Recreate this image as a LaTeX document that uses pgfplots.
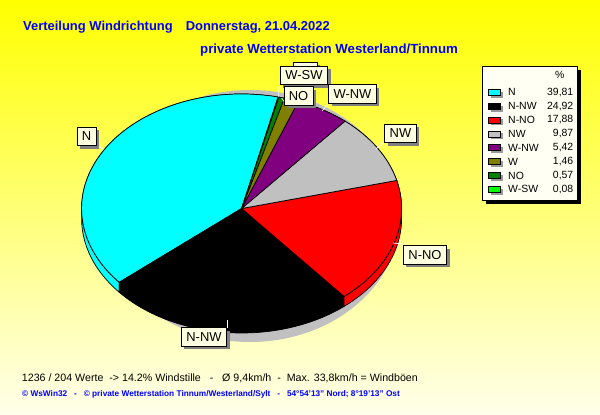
\documentclass[border=0pt]{standalone}
\usepackage{fontspec}
\setmainfont{Liberation Sans}
\usepackage{pgfplots}
\usepackage{pgfplotstable}
\pgfplotsset{compat=1.18}
\usetikzlibrary{shadows}

\definecolor{sl0}{RGB}{0,255,255}
\definecolor{sl1}{RGB}{0,0,0}
\definecolor{sl2}{RGB}{255,0,0}
\definecolor{sl3}{RGB}{192,192,192}
\definecolor{sl4}{RGB}{128,0,128}
\definecolor{sl5}{RGB}{128,128,0}
\definecolor{sl6}{RGB}{0,128,0}
\definecolor{sl7}{RGB}{0,255,0}
\definecolor{bgtop}{RGB}{255,255,0}
\definecolor{bgbot}{RGB}{255,255,235}
\definecolor{tipfill}{RGB}{255,255,225}
\definecolor{legfill}{RGB}{255,255,243}
\definecolor{pieshadow}{RGB}{192,192,192}
\definecolor{wsblue}{RGB}{0,0,255}

% wind direction shares in percent
\pgfplotstableread{
dir    val
N      39.81
N-NW   24.92
N-NO   17.88
NW     9.87
W-NW   5.42
W      1.46
NO     0.57
W-SW   0.08
}\winddata

% pie geometry (1 unit = 1 px of the original)
\newcommand\cx{241.6}
\newcommand\cy{206.5}
\newcommand\rx{160bp}
\newcommand\ry{114.5bp}
\newcommand\dep{10bp}

\begin{document}
\begin{tikzpicture}[
  tip/.style={draw=black, line width=0.5bp, fill=tipfill,
    font=\fontsize{13}{13}\selectfont, inner xsep=5bp, inner ysep=0bp,
    minimum height=18.5bp,
    drop shadow={shadow xshift=3bp, shadow yshift=-3bp, fill=gray, opacity=1}},
  leader/.style={white, line width=0.7bp}]
\useasboundingbox (0,0) rectangle (600bp,415bp);
\fill[top color=bgtop, bottom color=bgbot] (0,0) rectangle (600bp,415bp);

% start / end angle of every slice
\xdef\cum{76.8}
\foreach \i in {0,...,7}{%
  \pgfplotstablegetelem{\i}{val}\of\winddata
  \pgfmathsetmacro\nxt{\cum+3.6*\pgfplotsretval}%
  \expandafter\xdef\csname aS\i\endcsname{\cum}%
  \expandafter\xdef\csname aE\i\endcsname{\nxt}%
  \xdef\cum{\nxt}%
}

\begin{axis}[at={(0,0)}, anchor=origin, x=1bp, y=1bp,
  xmin=0, xmax=600, ymin=0, ymax=415, hide axis, clip=false]

% shadow under the pie
\fill[pieshadow] (axis cs:250,199) ellipse [x radius=150bp, y radius=126bp];

% side of the pie
\pgfplotsinvokeforeach{0,...,7}{%
  \filldraw[fill=sl#1, draw=black, line width=0.7bp]
    (axis cs:\cx,\cy) ++(\csname aS#1\endcsname:160bp and 114.5bp)
    arc[start angle=\csname aS#1\endcsname, end angle=\csname aE#1\endcsname, x radius=\rx, y radius=\ry]
    -- ++(0,-\dep)
    arc[start angle=\csname aE#1\endcsname, end angle=\csname aS#1\endcsname, x radius=\rx, y radius=\ry]
    -- cycle;
}
% top of the pie
\pgfplotsinvokeforeach{0,...,7}{%
  \filldraw[fill=sl#1, draw=black, line width=0.7bp]
    (axis cs:\cx,\cy) -- ++(\csname aS#1\endcsname:160bp and 114.5bp)
    arc[start angle=\csname aS#1\endcsname, end angle=\csname aE#1\endcsname, x radius=\rx, y radius=\ry]
    -- cycle;
}

% leader lines
\draw[leader] (axis cs:97,270) -- (axis cs:103,266);
\draw[leader] (axis cs:279,329) -- (axis cs:278.6,318);
\draw[leader] (axis cs:285,312) -- (axis cs:281.7,317);
\draw[leader] (axis cs:328,311) -- (axis cs:322,304);
\draw[leader] (axis cs:383,272) -- (axis cs:376,266);
\draw[leader] (axis cs:403,171) -- (axis cs:393,172);
\draw[leader] (axis cs:227,95) -- (axis cs:227,87);

% slice labels
\node[tip] at (axis cs:86.5,278.5) {N};
\node[tip, minimum width=24bp] at (axis cs:305,343.5) {};
\node[tip] at (axis cs:304,339.5) {W-SW};
\node[tip] at (axis cs:298.5,319) {NO};
\node[tip] at (axis cs:352.5,321) {W-NW};
\node[tip] at (axis cs:400.5,281.5) {NW};
\node[tip] at (axis cs:425,160) {N-NO};
\node[tip] at (axis cs:204,78) {N-NW};

% legend
\fill[black] (axis cs:486,345) rectangle (axis cs:581,211);
\filldraw[fill=legfill, draw=black, line width=0.5bp] (axis cs:482,349) rectangle (axis cs:577,215);
\node[font=\fontsize{10.5}{10.5}\selectfont] at (axis cs:559.7,340) {\%};
\pgfplotsinvokeforeach{0,...,7}{%
  \fill[gray!80] (axis cs:490.5,{323.2-13.85*#1}) rectangle (axis cs:502.5,{317.2-13.85*#1});
  \filldraw[fill=sl#1, draw=black, line width=0.5bp]
    (axis cs:488,{325.7-13.85*#1}) rectangle (axis cs:500,{319.7-13.85*#1});
  \node[anchor=west, inner sep=0pt, font=\fontsize{10.5}{10.5}\selectfont]
    at (axis cs:508,{322.7-13.85*#1})
    {\pgfplotstablegetelem{#1}{dir}\of\winddata\pgfplotsretval};
  \node[anchor=east, inner sep=0pt, font=\fontsize{10.5}{10.5}\selectfont]
    at (axis cs:573.5,{322.7-13.85*#1})
    {\pgfplotstablegetelem{#1}{val}\of\winddata
     \pgfmathprintnumber[fixed, fixed zerofill, precision=2, use comma, assume math mode=true]{\pgfplotsretval}};
}

% titles and notes
\node[anchor=base west, inner sep=0pt, text=wsblue, font=\fontsize{13}{13}\selectfont\bfseries]
  at (axis cs:23,385) {Verteilung Windrichtung\hspace{13bp}Donnerstag, 21.04.2022};
\node[anchor=base west, inner sep=0pt, text=wsblue, font=\fontsize{13.3}{13}\selectfont\bfseries]
  at (axis cs:200,361.7) {private Wetterstation Westerland/Tinnum};
\node[anchor=base west, inner sep=0pt, font=\fontsize{10.7}{10.7}\selectfont]
  at (axis cs:21.7,33.3) {1236 / 204 Werte\ \ -> 14.2\% Windstille\ \ \ -\ \ \ Ø 9,4km/h\ \ -\ \ Max. 33,8km/h = Windböen};
\node[anchor=base west, inner sep=0pt, text=wsblue, font=\fontsize{8.3}{8.3}\selectfont\bfseries]
  at (axis cs:22,18.3) {© WsWin32\ \ \ -\ \ \ © private Wetterstation Tinnum/Westerland/Sylt\ \ \ -\ \ \ 54°54'13'' Nord; 8°19'13'' Ost};
\end{axis}
\end{tikzpicture}
\end{document}
